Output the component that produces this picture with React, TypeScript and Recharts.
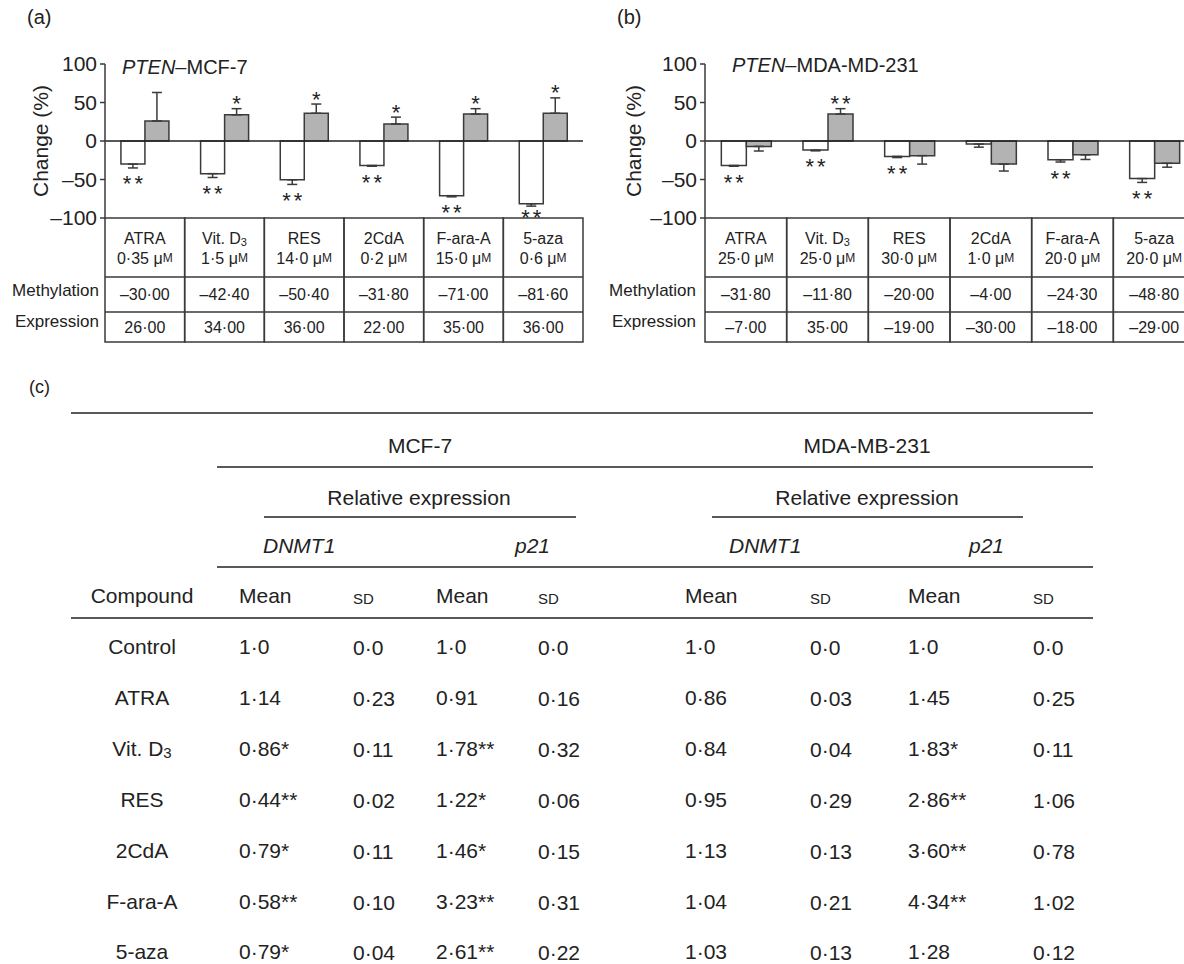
import React from 'react'
import { BarChart, Bar, XAxis, YAxis, ReferenceLine, ErrorBar, LabelList } from 'recharts'

const FONT = '"Liberation Sans", Arial, Helvetica, sans-serif'
const INK = '#222'
const EDGE = '#3a3a3a'
const GREY = '#b3b3b3'

// shared compounds (panels a, b)
const compounds = ['ATRA', 'Vit. D3', 'RES', '2CdA', 'F-ara-A', '5-aza']

// (a) PTEN - MCF-7
const dosesMcf = ['0·35', '1·5', '14·0', '0·2', '15·0', '0·6']
const methylationMcf = [-30.0, -42.4, -50.4, -31.8, -71.0, -81.6]
const expressionMcf = [26, 34, 36, 22, 35, 36]
const methylationErrMcf = [5, 5, 6, 1, 1.5, 3]
const expressionErrMcf = [37, 8, 12, 9, 7, 20]
const methylationSigMcf = ['**', '**', '**', '**', '**', '**']
const expressionSigMcf = ['', '*', '*', '*', '*', '*']

// (b) PTEN - MDA-MB-231
const dosesMda = ['25·0', '25·0', '30·0', '1·0', '20·0', '20·0']
const methylationMda = [-31.8, -11.8, -20.0, -4.0, -24.3, -48.8]
const expressionMda = [-7, 35, -19, -30, -18, -29]
const methylationErrMda = [1, 1, 1.5, 4, 3, 5]
const expressionErrMda = [6, 7, 11, 9, 6, 5]
const methylationSigMda = ['**', '**', '**', '', '**', '**']
const expressionSigMda = ['', '**', '', '', '', '']

const yTicks = [-100, -50, 0, 50, 100]

// (c) relative expression table
const compoundsC = ['Control', 'ATRA', 'Vit. D3', 'RES', '2CdA', 'F-ara-A', '5-aza']
const mcfDnmt1Mean = ['1·0', '1·14', '0·86*', '0·44**', '0·79*', '0·58**', '0·79*']
const mcfDnmt1Sd = ['0·0', '0·23', '0·11', '0·02', '0·11', '0·10', '0·04']
const mcfP21Mean = ['1·0', '0·91', '1·78**', '1·22*', '1·46*', '3·23**', '2·61**']
const mcfP21Sd = ['0·0', '0·16', '0·32', '0·06', '0·15', '0·31', '0·22']
const mdaDnmt1Mean = ['1·0', '0·86', '0·84', '0·95', '1·13', '1·04', '1·03']
const mdaDnmt1Sd = ['0·0', '0·03', '0·04', '0·29', '0·13', '0·21', '0·13']
const mdaP21Mean = ['1·0', '1·45', '1·83*', '2·86**', '3·60**', '4·34**', '1·28']
const mdaP21Sd = ['0·0', '0·25', '0·11', '1·06', '0·78', '1·02', '0·12']

function buildRows(doses: string[], meth: number[], expr: number[], methErr: number[], exprErr: number[], methSig: string[], exprSig: string[]) {
  return compounds.map((name, i) => ({
    name,
    dose: doses[i],
    meth: meth[i],
    expr: expr[i],
    // error bars only point away from zero
    methErr: meth[i] < 0 ? [methErr[i], 0] : [0, methErr[i]],
    exprErr: expr[i] < 0 ? [exprErr[i], 0] : [0, exprErr[i]],
    methErrSize: methErr[i],
    exprErrSize: exprErr[i],
    methSig: methSig[i],
    exprSig: exprSig[i],
  }))
}

const rowsMcf = buildRows(dosesMcf, methylationMcf, expressionMcf, methylationErrMcf, expressionErrMcf, methylationSigMcf, expressionSigMcf)
const rowsMda = buildRows(dosesMda, methylationMda, expressionMda, methylationErrMda, expressionErrMda, methylationSigMda, expressionSigMda)

const fmtVal = (v: number) => (v < 0 ? '\u2013' : '') + Math.abs(v).toFixed(2).replace('.', '·')
const fmtTick = (v: number) => (v < 0 ? '\u2013' + Math.abs(v) : String(v))

function Name({ name, sub }: { name: string; sub: number }) {
  if (name.endsWith('D3')) {
    return (
      <>
        {name.slice(0, -1)}
        <tspan fontSize={sub} dy={4}>3</tspan>
      </>
    )
  }
  return <>{name}</>
}

function TableTick(props: any) {
  const { x, y, payload, rows, band } = props
  const row = rows.find((r: any) => r.name === payload.value)
  if (!row) return null
  const left = x - band / 2
  const txt = { textAnchor: 'middle' as const, dominantBaseline: 'central' as const, fill: INK, fontFamily: FONT }
  return (
    <g>
      <rect x={left} y={y} width={band} height={124} fill="none" stroke={EDGE} strokeWidth={1.5} />
      <line x1={left} x2={left + band} y1={y + 59} y2={y + 59} stroke={EDGE} strokeWidth={1.5} />
      <line x1={left} x2={left + band} y1={y + 94} y2={y + 94} stroke={EDGE} strokeWidth={1.5} />
      <text x={x} y={y + 20} fontSize={16} {...txt}>
        <Name name={row.name} sub={11} />
      </text>
      <text x={x} y={y + 40} fontSize={16} {...txt}>
        {row.dose} μ<tspan fontSize={12}>M</tspan>
      </text>
      <text x={x} y={y + 76} fontSize={16} {...txt}>{fmtVal(row.meth)}</text>
      <text x={x} y={y + 109} fontSize={16} {...txt}>{fmtVal(row.expr)}</text>
    </g>
  )
}

function starLabel(rows: any[], valueKey: string, errKey: string, sigKey: string) {
  return (props: any) => {
    const { x, y, width, height, index } = props
    const row = rows[index]
    if (!row || !row[sigKey]) return null
    const v = row[valueKey]
    const h = Number(height)
    const top = Math.min(y, y + h)
    const bottom = Math.max(y, y + h)
    const pxPerUnit = Math.abs(h) / Math.abs(v)
    const errPx = row[errKey] * pxPerUnit
    let cy = v < 0 ? bottom + errPx + 11 : top - errPx - 10
    if (v < 0) {
      // keep the stars above the table edge at -100
      const floor = top + 100 * pxPerUnit - 6
      cy = Math.min(cy, floor)
    }
    return (
      <text x={x + width / 2 + 1.5} y={cy + 12.5} textAnchor="middle" fontSize={22} letterSpacing={3} fill={INK} fontFamily={FONT}>
        {row[sigKey]}
      </text>
    )
  }
}

function PtenChart({ rows, width, marginRight }: { rows: any[]; width: number; marginRight: number }) {
  const band = (width - 105 - marginRight) / rows.length
  return (
    <BarChart
      width={width}
      height={350}
      data={rows}
      margin={{ top: 64, right: marginRight, bottom: 8, left: 45 }}
      barCategoryGap="20%"
      barGap={0}
    >
      <XAxis
        dataKey="name"
        height={124}
        interval={0}
        tickSize={0}
        tickMargin={0}
        axisLine={false}
        tickLine={false}
        tick={<TableTick rows={rows} band={band} />}
      />
      <YAxis
        type="number"
        width={60}
        domain={[-100, 100]}
        ticks={yTicks}
        interval={0}
        allowDataOverflow
        tickSize={5}
        tickMargin={3}
        tickFormatter={fmtTick}
        tick={{ fontSize: 21, fill: INK, fontFamily: FONT }}
        axisLine={{ stroke: EDGE, strokeWidth: 1.5 }}
        tickLine={{ stroke: EDGE, strokeWidth: 1.5 }}
      />
      <Bar dataKey="meth" fill="#ffffff" stroke={EDGE} strokeWidth={1.5} isAnimationActive={false}>
        <ErrorBar dataKey="methErr" direction="y" width={5} stroke={EDGE} strokeWidth={1.5} isAnimationActive={false} />
        <LabelList dataKey="methSig" content={starLabel(rows, 'meth', 'methErrSize', 'methSig')} />
      </Bar>
      <Bar dataKey="expr" fill={GREY} stroke={EDGE} strokeWidth={1.5} isAnimationActive={false}>
        <ErrorBar dataKey="exprErr" direction="y" width={5} stroke={EDGE} strokeWidth={1.5} isAnimationActive={false} />
        <LabelList dataKey="exprSig" content={starLabel(rows, 'expr', 'exprErrSize', 'exprSig')} />
      </Bar>
      <ReferenceLine y={0} stroke={INK} strokeWidth={1.5} />
    </BarChart>
  )
}

// column positions for table (c)
const meanCols = [239, 436, 685, 908]
const sdCols = [353, 538, 810, 1033]
const rowY = [646, 697, 748, 799, 850, 901, 951]

function TableC() {
  const t = { fill: INK, fontFamily: FONT, dominantBaseline: 'central' as const }
  const ln = { stroke: INK, strokeWidth: 1.4 }
  const cols = [
    [mcfDnmt1Mean, mcfDnmt1Sd],
    [mcfP21Mean, mcfP21Sd],
    [mdaDnmt1Mean, mdaDnmt1Sd],
    [mdaP21Mean, mdaP21Sd],
  ]
  return (
    <g>
      <text x={29} y={387} fontSize={18} {...t}>(c)</text>
      <line x1={71} x2={1093} y1={413} y2={413} {...ln} />
      <text x={420} y={445} fontSize={21} textAnchor="middle" {...t}>MCF-7</text>
      <text x={867} y={445} fontSize={21} textAnchor="middle" {...t}>MDA-MB-231</text>
      <line x1={217} x2={1093} y1={467} y2={467} {...ln} />
      <text x={419} y={497} fontSize={21} textAnchor="middle" {...t}>Relative expression</text>
      <text x={867} y={497} fontSize={21} textAnchor="middle" {...t}>Relative expression</text>
      <line x1={264} x2={576} y1={517} y2={517} {...ln} />
      <line x1={712} x2={1023} y1={517} y2={517} {...ln} />
      <text x={263} y={545} fontSize={21} fontStyle="italic" {...t}>DNMT1</text>
      <text x={550} y={545} fontSize={21} fontStyle="italic" textAnchor="end" {...t}>p21</text>
      <text x={729} y={545} fontSize={21} fontStyle="italic" {...t}>DNMT1</text>
      <text x={1004} y={545} fontSize={21} fontStyle="italic" textAnchor="end" {...t}>p21</text>
      <line x1={217} x2={1093} y1={567} y2={567} {...ln} />
      <text x={142} y={595} fontSize={21} textAnchor="middle" {...t}>Compound</text>
      {meanCols.map((x) => (
        <text key={'m' + x} x={x} y={595} fontSize={21} {...t}>Mean</text>
      ))}
      {sdCols.map((x) => (
        <text key={'s' + x} x={x} y={598} fontSize={15} {...t}>SD</text>
      ))}
      <line x1={71} x2={1093} y1={618} y2={618} {...ln} />
      {compoundsC.map((c, i) => (
        <g key={c}>
          <text x={142} y={rowY[i]} fontSize={21} textAnchor="middle" {...t}>
            <Name name={c} sub={15} />
          </text>
          {cols.map(([mean, sd], j) => (
            <React.Fragment key={j}>
              <text x={meanCols[j]} y={rowY[i]} fontSize={21} {...t}>{mean[i]}</text>
              <text x={sdCols[j]} y={rowY[i] + 1} fontSize={21} {...t}>{sd[i]}</text>
            </React.Fragment>
          ))}
        </g>
      ))}
    </g>
  )
}

export default function App() {
  const t = { fill: INK, fontFamily: FONT, dominantBaseline: 'central' as const }
  return (
    <div style={{ position: 'absolute', left: 0, top: 0, width: 1184, height: 964, overflow: 'hidden', background: '#fff', fontFamily: FONT }}>
      <div style={{ position: 'absolute', left: 0, top: 0 }}>
        <PtenChart rows={rowsMcf} width={600} marginRight={17} />
      </div>
      <div style={{ position: 'absolute', left: 600, top: 0 }}>
        <PtenChart rows={rowsMda} width={600} marginRight={5} />
      </div>
      <svg width={1184} height={964} style={{ position: 'absolute', left: 0, top: 0, pointerEvents: 'none' }}>
        <text x={27} y={17} fontSize={20} {...t}>(a)</text>
        <text x={617} y={17} fontSize={20} {...t}>(b)</text>
        <text x={122} y={67} fontSize={20} {...t}>
          <tspan fontStyle="italic">PTEN</tspan>–MCF-7
        </text>
        <text x={732} y={65} fontSize={20} {...t}>
          <tspan fontStyle="italic">PTEN</tspan>–MDA-MD-231
        </text>
        <text x={40} y={141} fontSize={21} textAnchor="middle" transform="rotate(-90 40 141)" {...t}>Change (%)</text>
        <text x={633} y={141} fontSize={21} textAnchor="middle" transform="rotate(-90 633 141)" {...t}>Change (%)</text>
        <text x={99} y={290} fontSize={17} textAnchor="end" {...t}>Methylation</text>
        <text x={99} y={321} fontSize={17} textAnchor="end" {...t}>Expression</text>
        <text x={696} y={290} fontSize={17} textAnchor="end" {...t}>Methylation</text>
        <text x={696} y={321} fontSize={17} textAnchor="end" {...t}>Expression</text>
        <TableC />
      </svg>
    </div>
  )
}
